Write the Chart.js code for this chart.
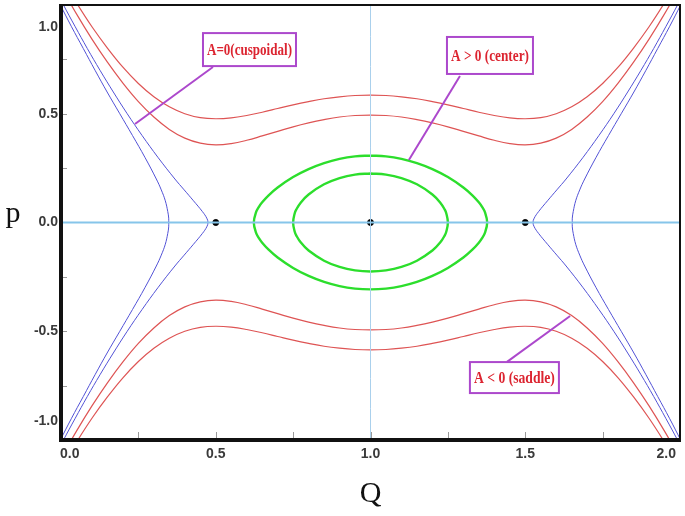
<!DOCTYPE html>
<html><head><meta charset="utf-8">
<script src="https://cdn.jsdelivr.net/npm/chart.js@4.4.1/dist/chart.umd.min.js"></script>
<style>html,body{margin:0;padding:0;background:#fff}#wrap{width:685px;height:516px;position:relative}</style>
</head><body><div id="wrap"><canvas id="c" width="685" height="516"></canvas></div>
<script>
// ---- tick labels ----
const xTicks = [0, 0.5, 1.0, 1.5, 2.0];
const xTickLabels = ['0.0', '0.5', '1.0', '1.5', '2.0'];
const yTicks = [1.0, 0.5, 0.0, -0.5, -1.0];
const yTickLabels = ['1.0', '0.5', '0.0', '-0.5', '-1.0'];
const minorX = [0.25, 0.5, 0.75, 1.0, 1.25, 1.5, 1.75];
const minorY = [0.75, 0.5, 0.25, -0.25, -0.5, -0.75];

// ---- axis lines ----
const hAxisQ = [0, 2];
const hAxisP = [0, 0];
const vAxisQ = [1, 1];
const vAxisP = [-1, 1];

// ---- red open orbits (A<0 region), p as a function of Q ----
const redQ = [0,0.05,0.1,0.15,0.2,0.25,0.3,0.35,0.4,0.45,0.5,0.55,0.6,0.65,0.7,0.75,0.8,0.85,0.9,0.95,1,1.05,1.1,1.15,1.2,1.25,1.3,1.35,1.4,1.45,1.5,1.55,1.6,1.65,1.7,1.75,1.8,1.85,1.9,1.95,2];
const redOuterTop = [1.129,1.010,0.900,0.802,0.714,0.639,0.578,0.532,0.500,0.482,0.477,0.481,0.492,0.507,0.524,0.541,0.556,0.569,0.578,0.584,0.586,0.584,0.578,0.569,0.556,0.541,0.524,0.507,0.492,0.481,0.477,0.482,0.500,0.532,0.578,0.639,0.714,0.802,0.900,1.010,1.129];
const redInnerTop = [1.084,0.959,0.843,0.737,0.641,0.556,0.485,0.428,0.388,0.365,0.357,0.363,0.378,0.398,0.419,0.440,0.458,0.473,0.485,0.492,0.494,0.492,0.485,0.473,0.458,0.440,0.419,0.398,0.378,0.363,0.357,0.365,0.388,0.428,0.485,0.556,0.641,0.737,0.843,0.959,1.084];
const redOuterBottom = [-1.129,-1.010,-0.900,-0.802,-0.714,-0.639,-0.578,-0.532,-0.500,-0.482,-0.477,-0.481,-0.492,-0.507,-0.524,-0.541,-0.556,-0.569,-0.578,-0.584,-0.586,-0.584,-0.578,-0.569,-0.556,-0.541,-0.524,-0.507,-0.492,-0.481,-0.477,-0.482,-0.500,-0.532,-0.578,-0.639,-0.714,-0.802,-0.900,-1.010,-1.129];
const redInnerBottom = [-1.084,-0.959,-0.843,-0.737,-0.641,-0.556,-0.485,-0.428,-0.388,-0.365,-0.357,-0.363,-0.378,-0.398,-0.419,-0.440,-0.458,-0.473,-0.485,-0.492,-0.494,-0.492,-0.485,-0.473,-0.458,-0.440,-0.419,-0.398,-0.378,-0.363,-0.357,-0.365,-0.388,-0.428,-0.485,-0.556,-0.641,-0.737,-0.843,-0.959,-1.084];

// ---- blue orbits (A=0, cuspoidal), Q as a function of p ----
const blueP = [1.1,1.0,0.9,0.8,0.7,0.6,0.5,0.4,0.3,0.2,0.15,0.1,0.05,0.02,0,-0.02,-0.05,-0.1,-0.15,-0.2,-0.3,-0.4,-0.5,-0.6,-0.7,-0.8,-0.9,-1.0,-1.1];
const blueInnerLeftQ = [-0.028,0.008,0.046,0.085,0.126,0.169,0.214,0.262,0.313,0.368,0.398,0.428,0.457,0.471,0.475,0.471,0.457,0.428,0.398,0.368,0.313,0.262,0.214,0.169,0.126,0.085,0.046,0.008,-0.028];
const blueOuterLeftQ = [-0.037,-0.002,0.034,0.072,0.110,0.149,0.190,0.231,0.271,0.308,0.324,0.337,0.345,0.348,0.348,0.348,0.345,0.337,0.324,0.308,0.271,0.231,0.190,0.149,0.110,0.072,0.034,-0.002,-0.037];
const blueInnerRightQ = [2.028,1.992,1.954,1.915,1.874,1.831,1.786,1.738,1.687,1.632,1.602,1.572,1.543,1.529,1.525,1.529,1.543,1.572,1.602,1.632,1.687,1.738,1.786,1.831,1.874,1.915,1.954,1.992,2.028];
const blueOuterRightQ = [2.037,2.002,1.966,1.928,1.890,1.851,1.810,1.769,1.729,1.692,1.676,1.663,1.655,1.652,1.652,1.652,1.655,1.663,1.676,1.692,1.729,1.769,1.810,1.851,1.890,1.928,1.966,2.002,2.037];

// ---- green closed orbits (A>0, center) ----
const greenInnerQ = [1.0,1.05,1.1,1.15,1.2,1.225,1.24,1.245,1.25,1.245,1.24,1.225,1.2,1.15,1.1,1.05,1.0,0.95,0.9,0.85,0.8,0.775,0.76,0.755,0.75,0.755,0.76,0.775,0.8,0.85,0.9,0.95,1.0];
const greenInnerP = [0.2255,0.2203,0.2043,0.1757,0.129,0.0924,0.0589,0.0417,0,-0.0417,-0.0589,-0.0924,-0.129,-0.1757,-0.2043,-0.2203,-0.2255,-0.2203,-0.2043,-0.1757,-0.129,-0.0924,-0.0589,-0.0417,0,0.0417,0.0589,0.0924,0.129,0.1757,0.2043,0.2203,0.2255];
const greenOuterQ = [1.0,1.05,1.1,1.15,1.2,1.25,1.3,1.33,1.35,1.36,1.37,1.377,1.37,1.36,1.35,1.33,1.3,1.25,1.2,1.15,1.1,1.05,1.0,0.95,0.9,0.85,0.8,0.75,0.7,0.67,0.65,0.64,0.63,0.623,0.63,0.64,0.65,0.67,0.7,0.75,0.8,0.85,0.9,0.95,1.0];
const greenOuterP = [0.3076,0.3038,0.2924,0.2732,0.2457,0.2091,0.1611,0.124,0.0927,0.0729,0.0463,0,-0.0463,-0.0729,-0.0927,-0.124,-0.1611,-0.2091,-0.2457,-0.2732,-0.2924,-0.3038,-0.3076,-0.3038,-0.2924,-0.2732,-0.2457,-0.2091,-0.1611,-0.124,-0.0927,-0.0729,-0.0463,0,0.0463,0.0729,0.0927,0.124,0.1611,0.2091,0.2457,0.2732,0.2924,0.3038,0.3076];

// ---- critical points ----
const critQ = [0.5, 1.0, 1.5];
const critP = [0, 0, 0];

// ---- annotations ----
const annotations = [
  {text:'A=0(cuspoidal)', q:0.609, p:0.795, w:93, h:33, from:[0.491,0.715], to:[0.239,0.453]},
  {text:'A > 0 (center)', q:1.386, p:0.768, w:86, h:37, from:[1.289,0.674], to:[1.124,0.287]},
  {text:'A < 0 (saddle)', q:1.465, p:-0.713, w:89, h:31, from:[1.441,-0.641], to:[1.645,-0.430]}
];

const pts = (X, Y) => X.map((v, i) => ({x: v, y: Y[i]}));
const RED = 'rgb(222,84,84)', BLUE = 'rgb(82,82,214)', GREEN = 'rgb(44,222,44)';
function curve(X, Y, color, w) {
  return {data: pts(X, Y), showLine: true, borderColor: color, borderWidth: w, pointRadius: 0, tension: 0.4, fill: false, clip: 0};
}

const decor = {
  id: 'decor',
  afterDatasetsDraw(chart) {
    const {ctx, chartArea: a, scales: {x, y}} = chart;
    ctx.save();
    // annotations
    const purple = 'rgb(172,72,204)';
    annotations.forEach(an => {
      ctx.strokeStyle = purple; ctx.lineWidth = 2;
      ctx.beginPath();
      ctx.moveTo(x.getPixelForValue(an.from[0]), y.getPixelForValue(an.from[1]));
      ctx.lineTo(x.getPixelForValue(an.to[0]), y.getPixelForValue(an.to[1]));
      ctx.stroke();
      const cx = x.getPixelForValue(an.q), cy = y.getPixelForValue(an.p);
      ctx.fillStyle = '#fff';
      ctx.fillRect(cx - an.w / 2, cy - an.h / 2, an.w, an.h);
      ctx.strokeRect(cx - an.w / 2, cy - an.h / 2, an.w, an.h);
      ctx.fillStyle = 'rgb(220,36,48)';
      ctx.font = 'bold 16px "Liberation Serif", "Times New Roman", serif';
      ctx.textAlign = 'center'; ctx.textBaseline = 'middle';
      ctx.fillText(an.text, cx, cy + 1, an.w - 8);
    });
    // minor ticks
    ctx.strokeStyle = '#9a9a9a'; ctx.lineWidth = 1;
    minorX.forEach(v => {
      const px = Math.round(x.getPixelForValue(v)) + 0.5;
      ctx.beginPath(); ctx.moveTo(px, a.bottom); ctx.lineTo(px, a.bottom - 8); ctx.stroke();
    });
    minorY.forEach(v => {
      const py = Math.round(y.getPixelForValue(v)) + 0.5;
      ctx.beginPath(); ctx.moveTo(a.left, py); ctx.lineTo(a.left + 6, py); ctx.stroke();
    });
    // frame
    ctx.strokeStyle = '#111';
    ctx.lineWidth = 2;
    ctx.strokeRect(a.left, a.top, a.right - a.left, a.bottom - a.top);
    ctx.lineWidth = 4;
    ctx.beginPath(); ctx.moveTo(a.left, a.top - 1); ctx.lineTo(a.left, a.bottom); ctx.lineTo(a.right + 1, a.bottom); ctx.stroke();
    // tick labels
    ctx.fillStyle = '#3a3a3a';
    ctx.font = 'bold 14px "Liberation Sans", Arial, sans-serif';
    ctx.textBaseline = 'middle';
    xTicks.forEach((v, i) => {
      let px = x.getPixelForValue(v);
      if (i === 0) { ctx.textAlign = 'left'; px -= 1; }
      else if (i === xTicks.length - 1) { ctx.textAlign = 'right'; px -= 4; }
      else ctx.textAlign = 'center';
      ctx.fillText(xTickLabels[i], px, a.bottom + 14, 22);
    });
    ctx.textAlign = 'right';
    yTicks.forEach((v, i) => {
      let py = y.getPixelForValue(v);
      if (i === 0) py += 22; else if (i === yTicks.length - 1) py -= 19;
      ctx.fillText(yTickLabels[i], a.left - 3, py, 30);
    });
    // axis titles
    ctx.fillStyle = '#111';
    ctx.font = '30px "Liberation Serif", "Times New Roman", serif';
    ctx.textAlign = 'center'; ctx.textBaseline = 'alphabetic';
    ctx.fillText('p', 13, 222);
    ctx.fillText('Q', (a.left + a.right) / 2, 502);
    ctx.restore();
  }
};

new Chart(document.getElementById('c'), {
  type: 'scatter',
  data: {
    datasets: [
      curve(hAxisQ, hAxisP, 'rgb(134,197,234)', 2),
      curve(vAxisQ, vAxisP, 'rgb(170,208,236)', 1),
      curve(redQ, redOuterTop, RED, 1.2),
      curve(redQ, redInnerTop, RED, 1.2),
      curve(redQ, redOuterBottom, RED, 1.2),
      curve(redQ, redInnerBottom, RED, 1.2),
      curve(blueInnerLeftQ, blueP, BLUE, 1),
      curve(blueOuterLeftQ, blueP, BLUE, 1),
      curve(blueInnerRightQ, blueP, BLUE, 1),
      curve(blueOuterRightQ, blueP, BLUE, 1),
      curve(greenInnerQ, greenInnerP, GREEN, 2.4),
      curve(greenOuterQ, greenOuterP, GREEN, 2.4),
      {data: pts(critQ, critP), showLine: false, pointRadius: 3, pointStyle: 'circle',
       backgroundColor: '#000', borderColor: '#000', pointBackgroundColor: '#000', pointBorderColor: '#000', pointBorderWidth: 1, clip: 0}
    ]
  },
  options: {
    responsive: false,
    animation: false,
    events: [],
    layout: {padding: {left: 61, right: 5, top: 5, bottom: 76}},
    plugins: {legend: {display: false}, tooltip: {enabled: false}},
    scales: {
      x: {type: 'linear', min: 0, max: 2, display: false},
      y: {type: 'linear', min: -1, max: 1, display: false}
    }
  },
  plugins: [decor]
});
</script>
</body></html>
